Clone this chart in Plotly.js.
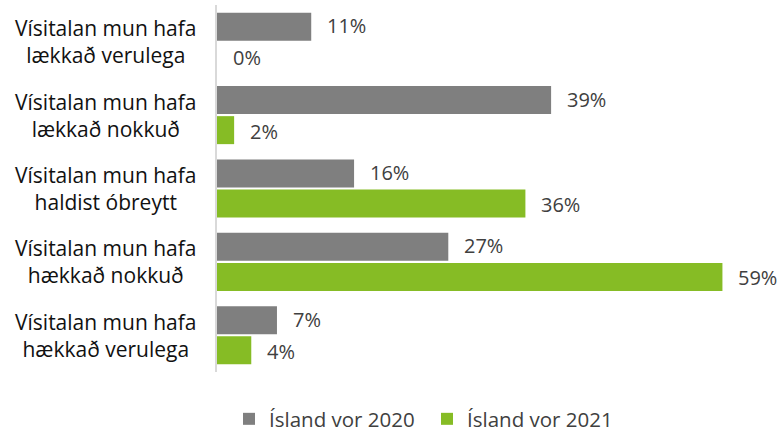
<!DOCTYPE html>
<html><head><meta charset="utf-8">
<script src="https://cdn.plot.ly/plotly-3.0.1.min.js"></script>
<style>html,body{margin:0;padding:0;background:#fff;}#chart{width:781px;height:433px;}</style>
</head><body><div id="chart"></div>
<script>
const categories = ["Vísitalan mun hafa<br>lækkað verulega","Vísitalan mun hafa<br>lækkað nokkuð","Vísitalan mun hafa<br>haldist óbreytt","Vísitalan mun hafa<br>hækkað nokkuð","Vísitalan mun hafa<br>hækkað verulega"];
const seriesNames = ["Ísland vor 2020","Ísland vor 2021"];
const values2020 = [11, 39, 16, 27, 7];
const values2021 = [0, 2, 36, 59, 4];
const colors = ["#7f7f7f","#86bc25"];
const FONT = "Open Sans, sans-serif";

const traces = [
  {type:"bar", orientation:"h", name:seriesNames[0], y:categories, x:values2020, marker:{color:colors[0]}, hoverinfo:"skip"},
  {type:"bar", orientation:"h", name:seriesNames[1], y:categories, x:values2021, marker:{color:colors[1]}, hoverinfo:"skip"}
];

const L = 217, W = 514;
const annotations = [];
[values2020, values2021].forEach((vals, s) => {
  vals.forEach((v, i) => {
    annotations.push({x:v, y:categories[i], xref:"x", yref:"y", text:v+"%", showarrow:false,
      xanchor:"left", xshift:14, yshift: s===0 ? 16 : -16,
      font:{family:FONT, size:20, color:"#404040"}});
  });
});
categories.forEach((c) => {
  annotations.push({x:(106 - L) / W, xref:"paper", y:c, yref:"y", text:c, showarrow:false, align:"center",
    xanchor:"center", font:{family:FONT, size:21, color:"#111"}});
});

const layout = {
  width:781, height:433,
  margin:{l:L, r:781-L-W, t:5, b:61},
  paper_bgcolor:"#fff", plot_bgcolor:"#fff",
  barmode:"group", bargap:0.18, bargroupgap:0.07,
  xaxis:{range:[0,60], showgrid:false, zeroline:false, showticklabels:false, showline:false, ticks:""},
  yaxis:{autorange:"reversed", showticklabels:false, showgrid:false, zeroline:false, showline:true, linecolor:"#d9d9d9", linewidth:2, ticks:""},
  showlegend:true,
  legend:{orientation:"h", xref:"container", x:229/781, xanchor:"left", yref:"container", y:14/433, yanchor:"middle",
    font:{family:FONT, size:20.5, color:"#404040"}, entrywidth:153, entrywidthmode:"pixels", traceorder:"normal"},
  annotations:annotations,
  font:{family:FONT}
};
Plotly.newPlot("chart", traces, layout, {displayModeBar:false, staticPlot:true});
</script></body></html>
